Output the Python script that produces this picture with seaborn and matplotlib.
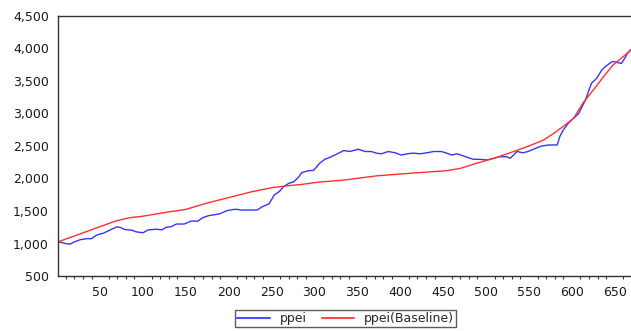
import seaborn as sns
import pandas as pd
import matplotlib.pyplot as plt
from matplotlib.ticker import MultipleLocator, FuncFormatter

ppei_x = [2, 10, 15, 19, 27, 35, 40, 46, 54, 62, 69, 73, 79, 87, 92, 100, 106,
          116, 122, 127, 133, 139, 148, 156, 164, 170, 177, 189, 198, 206, 210,
          214, 222, 233, 239, 247, 253, 259, 264, 270, 276, 282, 285, 293, 299,
          306, 312, 318, 326, 334, 341, 351, 359, 366, 372, 378, 386, 394, 401,
          408, 415, 423, 431, 439, 448, 454, 460, 466, 474, 485, 493, 501, 509,
          516, 524, 528, 532, 536, 543, 549, 557, 565, 573, 580, 583, 586, 590,
          596, 602, 608, 612, 616, 620, 623, 629, 635, 639, 644, 648, 654, 658,
          661, 665, 669]
ppei_y = [1025, 1000, 990, 1020, 1060, 1075, 1075, 1130, 1160, 1210, 1255, 1250,
          1215, 1205, 1180, 1165, 1210, 1220, 1210, 1250, 1260, 1300, 1300, 1345,
          1345, 1400, 1430, 1455, 1505, 1525, 1525, 1515, 1515, 1515, 1565, 1610,
          1745, 1800, 1875, 1925, 1950, 2030, 2090, 2120, 2125, 2235, 2295, 2325,
          2375, 2430, 2415, 2450, 2415, 2415, 2390, 2380, 2415, 2395, 2360, 2380,
          2390, 2380, 2395, 2415, 2415, 2390, 2360, 2380, 2345, 2295, 2295, 2285,
          2310, 2335, 2335, 2310, 2360, 2415, 2395, 2415, 2460, 2500, 2515, 2515,
          2515, 2645, 2745, 2850, 2925, 3000, 3105, 3210, 3360, 3465, 3540, 3670,
          3720, 3770, 3800, 3780, 3770, 3835, 3925, 3985]

# ppei(Baseline)
base_x = [2, 23, 50, 69, 86, 100, 127, 150, 174, 201, 228, 251, 270, 286, 305,
          334, 372, 411, 454, 470, 489, 509, 528, 548, 567, 579, 590, 602, 613,
          625, 637, 648, 660, 669]
base_y = [1030, 1130, 1260, 1350, 1400, 1420, 1480, 1525, 1620, 1710, 1800, 1860,
          1890, 1910, 1945, 1975, 2040, 2080, 2120, 2155, 2235, 2310, 2395, 2490,
          2590, 2695, 2800, 2925, 3160, 3360, 3565, 3745, 3875, 3975]

df_a = pd.DataFrame({'obs': ppei_x, 'value': ppei_y, 'series': 'ppei'})
df_b = pd.DataFrame({'obs': base_x, 'value': base_y, 'series': 'ppei(Baseline)'})
df = pd.concat([df_a, df_b], ignore_index=True)

sns.set_style('white')
plt.rcParams['font.family'] = ['DejaVu Sans']

fig = plt.figure(figsize=(6.31, 3.31), dpi=100)
ax = fig.add_axes([0.092, 0.166, 0.908, 0.786])

sns.lineplot(data=df, x='obs', y='value', hue='series', sort=False,
             palette={'ppei': '#3535ff', 'ppei(Baseline)': '#ff3030'},
             linewidth=1.0, ax=ax, legend=False)

ax.set_xlim(1, 669)
ax.set_ylim(500, 4500)
ax.xaxis.set_major_locator(MultipleLocator(50))
ax.xaxis.set_minor_locator(MultipleLocator(10))
ax.yaxis.set_major_locator(MultipleLocator(500))
ax.yaxis.set_major_formatter(FuncFormatter(lambda v, p: f'{int(v):,}'))
ax.set_xlabel('')
ax.set_ylabel('')

for s in ['left', 'bottom', 'top']:
    ax.spines[s].set_color('#333333')
    ax.spines[s].set_linewidth(1.0)
ax.spines['right'].set_visible(False)

ax.tick_params(axis='both', which='major', direction='out', length=4,
               width=1, color='#333333', labelsize=9, labelcolor='#1a1a1a')
ax.tick_params(axis='x', which='minor', direction='out', length=2.5,
               width=0.8, color='#333333', bottom=True)
ax.tick_params(axis='x', which='major', pad=3)
ax.tick_params(axis='y', which='major', pad=2.5)

handles = [plt.Line2D([], [], color='#4a4aff', lw=1.5),
           plt.Line2D([], [], color='#ff4a4a', lw=1.5)]
leg = fig.legend(handles, ['ppei', 'ppei(Baseline)'], loc='upper center',
                 bbox_to_anchor=(0.548, 0.062), ncol=2, fontsize=9,
                 frameon=True, fancybox=False, handlelength=2.6,
                 borderpad=0.15, borderaxespad=0, columnspacing=1.2,
                 handletextpad=0.8)
leg.get_frame().set_edgecolor('#333333')
leg.get_frame().set_linewidth(1.0)

fig.savefig('out.png', dpi=100)
